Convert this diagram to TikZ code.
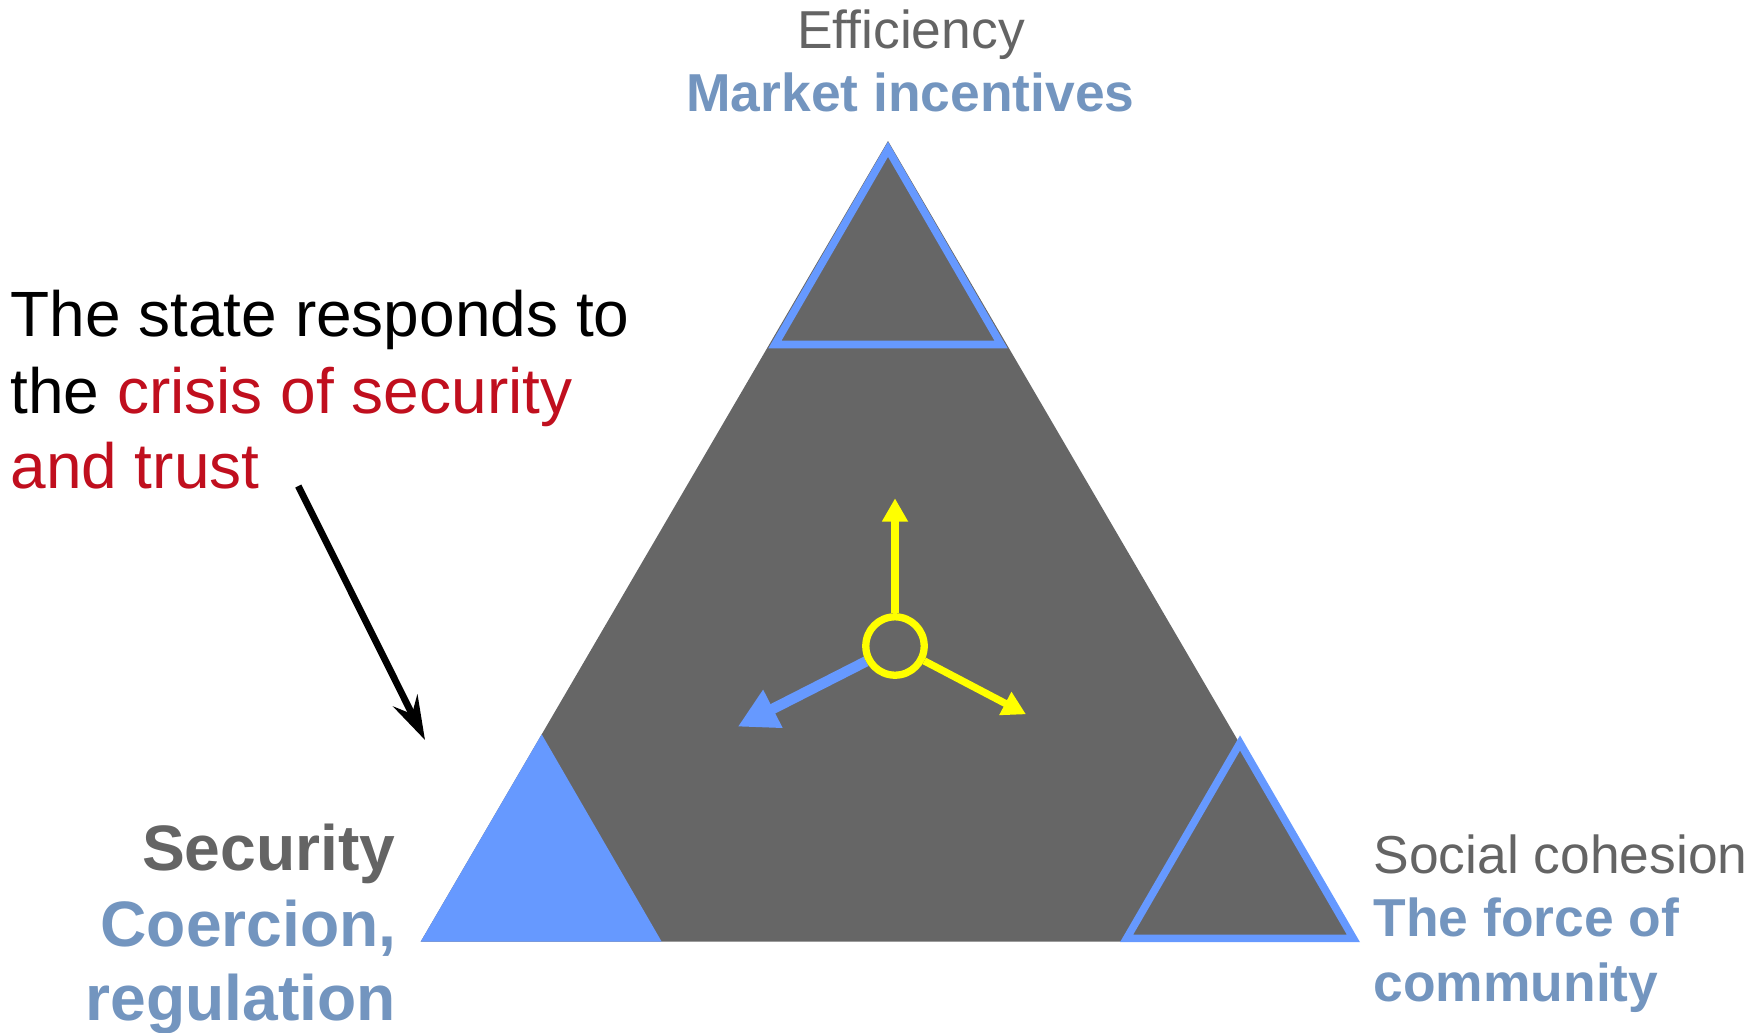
\documentclass[tikz,border=0pt]{standalone}
\usepackage{fontspec}
\setmainfont{Liberation Sans}
\usetikzlibrary{arrows.meta,calc}
\definecolor{tgray}{HTML}{666666}
\definecolor{tblue}{HTML}{6699FF}
\definecolor{lblue}{HTML}{7395BF}
\definecolor{lgray}{HTML}{646464}
\definecolor{cred}{HTML}{C00F1E}
\definecolor{yel}{HTML}{FFFF00}
\pgfdeclarelayer{bglayer}
\pgfdeclarelayer{midlayer}
\pgfsetlayers{bglayer,midlayer,main}
\tikzset{
  corner/.style={fill=tgray, draw=tblue, line width=7.6pt, line join=miter},
  lbl/.style={inner sep=0pt, outer sep=0pt},
  big/.style={font=\fontsize{64pt}{76pt}\selectfont},
  mid/.style={font=\fontsize{53.4pt}{60pt}\selectfont},
  midb/.style={font=\fontsize{53.4pt}{60pt}\selectfont\bfseries},
  largeb/.style={font=\fontsize{64.2pt}{75pt}\selectfont\bfseries},
  yarrow/.style={draw=yel, line width=7.3pt, -{Triangle[width=24.7pt,length=23.4pt]}},
}
\begin{document}
\begin{tikzpicture}[x=1pt,y=-1pt]
\useasboundingbox (0,0) rectangle (1762,1033);

% main triangle and corner triangles
\begin{pgfonlayer}{bglayer}
\coordinate (A) at (888,141);
\coordinate (L) at (420.7,941.7);
\coordinate (R) at (1355.3,941.7);
\fill[tgray] (A) -- (L) -- (R) -- cycle;
\draw[corner] (888,149.3) -- (774.9,344.5) -- (1001.1,344.5) -- cycle;
\draw[corner] (1240,743) -- (1126.6,938.4) -- (1353.4,938.4) -- cycle;
\fill[tblue] (541.7,734.3) -- (420.7,941.7) -- (661.7,941.7) -- cycle;
\end{pgfonlayer}

% hub with arrows
\node[circle, draw=yel, line width=7.3pt, minimum size=58.4pt, inner sep=0pt] (hub) at (895,646) {};
\coordinate (tipU) at (895,498.3);
\coordinate (tipR) at (1026,714.3);
\coordinate (tipL) at (737.7,726.7);
\begin{pgfonlayer}{midlayer}
\draw[yarrow] (hub.90) -- (tipU);
\draw[yarrow] (hub.-27.5) -- (tipR);
\draw[draw=tblue, line width=10.5pt, -{Triangle[width=40pt,length=39.5pt]}] (hub.208.6) -- (tipL);
\end{pgfonlayer}

% top labels
\node[lbl, mid, text=lgray, anchor=base] (eff) at (911,48.5) {Efficiency};
\node[lbl, midb, text=lblue, anchor=base] (mkt) at (910.5,111.7) {Market incentives};

% left bottom labels
\node[lbl, largeb, text=lgray, anchor=base east] (sec) at (395.5,870) {Security};
\node[lbl, largeb, text=lblue, anchor=base east] (coe) at (396.5,946.7) {Coercion,};
\node[lbl, largeb, text=lblue, anchor=base east] (reg) at (396,1020) {regulation};

% right bottom labels
\node[lbl, mid, text=lgray, anchor=base west] (soc) at (1373.5,873.3) {Social cohesion};
\node[lbl, midb, text=lblue, anchor=base west] (frc) at (1373.5,936.7) {The force of};
\node[lbl, midb, text=lblue, anchor=base west] (com) at (1373.5,1001.7) {community};

% annotation
\node[lbl, big, anchor=base west] (st1) at (10.5,336.7) {The state responds to};
\node[lbl, big, anchor=base west] (st2) at (10.5,413.3) {the \textcolor{cred}{crisis of security}};
\node[lbl, big, anchor=base west, text=cred] (st3) at (10.5,488.3) {and trust};

\coordinate (bs) at (298.3,486);
\coordinate (be) at (425,740);
\draw[black, line width=6.8pt, -{Stealth[length=44pt,width=27pt,inset=15pt]}] (bs) -- (be);
\end{tikzpicture}
\end{document}
